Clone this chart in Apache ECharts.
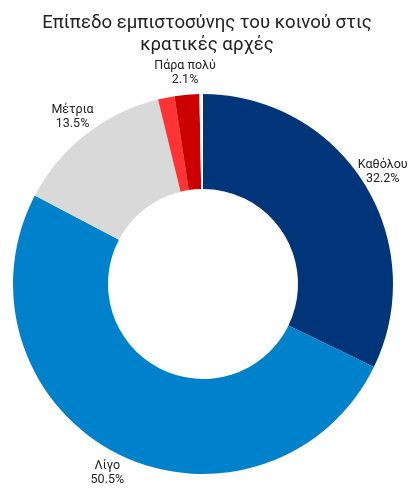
<!DOCTYPE html>
<html>
<head>
<meta charset="utf-8">
<title>Επίπεδο εμπιστοσύνης</title>
<script src="https://cdn.jsdelivr.net/npm/echarts@6/dist/echarts.min.js"></script>
<style>
  html, body { margin: 0; padding: 0; background: #fff; }
  #chart { width: 414px; height: 489px; }
</style>
</head>
<body>
<div id="chart"></div>
<script>
// δεδομένα
var names = ['Καθόλου', 'Λίγο', 'Μέτρια', 'Αρκετά', 'Πάρα πολύ', 'ΔΓ/ΔΑ']
var values = [32.2, 50.5, 13.5, 1.4, 2.1, 0.3]
var showLabel = [true, true, true, false, true, false]
var colors = ['#00357a', '#0081cb', '#d9d9d9', '#ff3333', '#cc0000', '#ffffff']

var cx = 203
var cy = 284
var labelRadius = 212

var total = values.reduce(function (a, b) { return a + b }, 0)

// θέση ετικέτας στη μέση γωνία κάθε τομέα
function labelPos(i) {
  var before = 0
  for (var k = 0; k < i; k++) before += values[k]
  var frac = (before + values[i] / 2) / total
  var a = frac * Math.PI * 2
  return { x: cx + labelRadius * Math.sin(a), y: cy - labelRadius * Math.cos(a) }
}

var chart = echarts.init(document.getElementById('chart'))
chart.setOption({
  animation: false,
  textStyle: { fontFamily: 'Roboto, sans-serif' },
  title: {
    text: 'Επίπεδο εμπιστοσύνης του κοινού στις\nκρατικές αρχές',
    left: 'center',
    top: 7,
    textStyle: {
      fontSize: 18.6,
      fontWeight: 'normal',
      color: '#222',
      lineHeight: 22,
      fontFamily: 'Roboto, sans-serif'
    }
  },
  series: [
    {
      type: 'pie',
      center: [cx, cy],
      radius: [95, 190],
      startAngle: 90,
      clockwise: true,
      avoidLabelOverlap: false,
      emphasis: { disabled: true },
      label: {
        position: 'inside',
        color: '#222',
        fontSize: 12.5,
        lineHeight: 14,
        fontFamily: 'Roboto, sans-serif',
        formatter: function (p) {
          return p.name + '\n' + p.value.toFixed(1) + '%'
        }
      },
      labelLine: { show: false },
      labelLayout: function (params) {
        var p = labelPos(params.dataIndex)
        return { x: p.x, y: p.y, align: 'center', verticalAlign: 'middle' }
      },
      data: names.map(function (n, i) {
        return {
          name: n,
          value: values[i],
          itemStyle: { color: colors[i] },
          label: { show: showLabel[i] }
        }
      })
    }
  ]
})
</script>
</body>
</html>
